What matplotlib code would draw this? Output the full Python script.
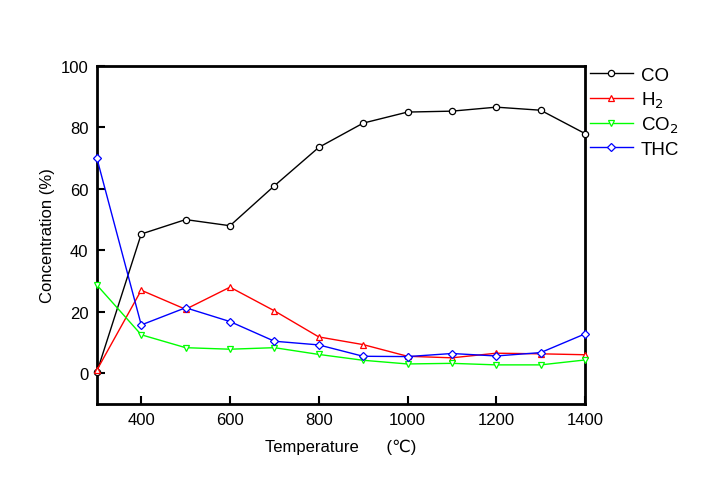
import numpy as np
import matplotlib
matplotlib.use('Agg')
import matplotlib.pyplot as plt

plt.rcParams['font.family'] = ['Liberation Sans', 'DejaVu Sans']

temperature = [300, 400, 500, 600, 700, 800, 900, 1000, 1100, 1200, 1300, 1400]
co = [0.3, 45.3, 50.0, 48.0, 61.0, 73.5, 81.4, 85.0, 85.3, 86.6, 85.6, 78.0]
h2 = [1.0, 27.0, 20.8, 28.0, 20.3, 11.8, 9.3, 5.5, 5.0, 6.5, 6.3, 6.0]
co2 = [28.7, 12.5, 8.3, 7.8, 8.3, 6.1, 4.2, 3.0, 3.2, 2.7, 2.7, 4.3]
thc = [70.0, 15.7, 21.3, 16.8, 10.4, 9.2, 5.5, 5.4, 6.4, 5.6, 6.7, 12.8]

series = [
    (co, 'CO', 'black', 'o'),
    (h2, 'H$_2$', 'red', '^'),
    (co2, 'CO$_2$', '#00ff00', 'v'),
    (thc, 'THC', 'blue', 'D'),
]

fig = plt.figure(figsize=(7.07, 4.89), dpi=100)
ax = fig.add_axes([0.137, 0.172, 0.6905, 0.691])

for vals, name, color, marker in series:
    ms = 3.6 if marker == 'D' else 4.5
    ax.plot(temperature, vals, color=color, marker=marker, markersize=ms,
            markerfacecolor='white', markeredgecolor=color, markeredgewidth=0.9,
            linewidth=1.0, label=name, clip_on=False, zorder=3)

ax.set_xlim(300, 1400)
ax.set_ylim(-10, 100)
ax.set_xticks([400, 600, 800, 1000, 1200, 1400])
ax.set_yticks([0, 20, 40, 60, 80, 100])
ax.tick_params(direction='in', length=6, width=1.5, labelsize=12, pad=6)
for sp in ax.spines.values():
    sp.set_linewidth(2)

ax.set_xlabel('Temperature      (\u2103)', fontsize=12, labelpad=8)
ax.set_ylabel('Concentration (%)', fontsize=12, labelpad=4)

leg = ax.legend(loc='upper left', bbox_to_anchor=(1.008, 1.0), frameon=False,
                fontsize=13.5, handlelength=2.3, handletextpad=0.4,
                labelspacing=0.28, borderaxespad=0.05, borderpad=0.0)

fig.savefig('out.png', dpi=100)
